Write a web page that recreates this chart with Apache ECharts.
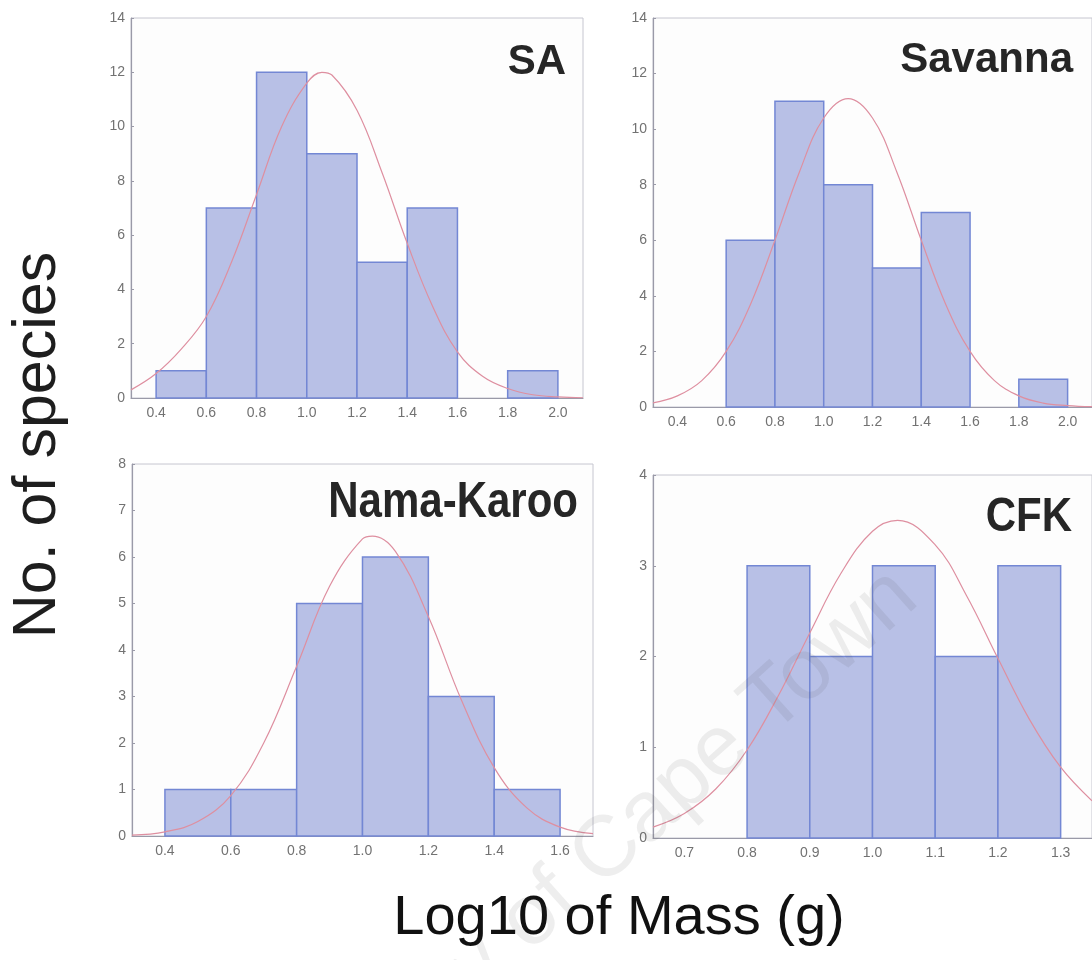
<!DOCTYPE html>
<html>
<head>
<meta charset="utf-8">
<title>Log10 of Mass</title>
<script src="https://cdn.jsdelivr.net/npm/echarts@6/dist/echarts.min.js"></script>
<style>
html, body { margin: 0; padding: 0; background: #fff; }
#main { width: 1092px; height: 960px; }
</style>
</head>
<body>
<div id="main"></div>
<script>
// lower edge of each bin and the number of species in it
var saBins = [0.4, 0.6, 0.8, 1.0, 1.2, 1.4, 1.8];
var saCounts = [1, 7, 12, 9, 5, 7, 1];
var savBins = [0.6, 0.8, 1.0, 1.2, 1.4, 1.8];
var savCounts = [6, 11, 8, 5, 7, 1];
var namaBins = [0.4, 0.6, 0.8, 1.0, 1.2, 1.4];
var namaCounts = [1, 1, 5, 6, 3, 1];
var cfkBins = [0.8, 0.9, 1.0, 1.1, 1.2];
var cfkCounts = [3, 2, 3, 2, 3];

// fitted normal curves
var saFitX = [0.3, 0.4, 0.5, 0.6, 0.7, 0.8, 0.9, 1.0, 1.06, 1.1, 1.2, 1.3, 1.4, 1.5, 1.6, 1.7, 1.8, 1.9, 2.0, 2.1];
var saFitY = [0.3, 0.9, 1.8, 3.0, 5.0, 7.5, 10.0, 11.6, 12.0, 11.9, 10.6, 8.3, 5.7, 3.4, 1.7, 0.8, 0.35, 0.12, 0.04, 0.01];
var savFitX = [0.3, 0.4, 0.5, 0.6, 0.7, 0.8, 0.9, 1.0, 1.1, 1.2, 1.3, 1.4, 1.5, 1.6, 1.7, 1.8, 1.9, 2.0, 2.1];
var savFitY = [0.15, 0.4, 0.95, 2.0, 3.7, 6.0, 8.45, 10.4, 11.1, 10.4, 8.45, 6.0, 3.7, 2.0, 0.95, 0.4, 0.14, 0.05, 0.01];
var namaFitX = [0.3, 0.4, 0.5, 0.6, 0.7, 0.8, 0.9, 1.0, 1.03, 1.1, 1.2, 1.3, 1.4, 1.5, 1.6, 1.7];
var namaFitY = [0.02, 0.09, 0.31, 0.87, 2.0, 3.65, 5.37, 6.39, 6.45, 6.12, 4.72, 2.93, 1.47, 0.6, 0.19, 0.05];
var cfkFitX = [0.65, 0.7, 0.75, 0.8, 0.85, 0.9, 0.95, 1.0, 1.04, 1.1, 1.15, 1.2, 1.25, 1.3, 1.35];
var cfkFitY = [0.12, 0.27, 0.54, 0.97, 1.57, 2.26, 2.92, 3.38, 3.5, 3.23, 2.67, 1.98, 1.31, 0.78, 0.41];

var panels = [
  { name: 'SA', bins: saBins, counts: saCounts, binWidth: 0.2, fitX: saFitX, fitY: saFitY,
    xMin: 0.3, xMax: 2.1, xStep: 0.2, yMax: 14, yStep: 2 },
  { name: 'Savanna', bins: savBins, counts: savCounts, binWidth: 0.2, fitX: savFitX, fitY: savFitY,
    xMin: 0.3, xMax: 2.1, xStep: 0.2, yMax: 14, yStep: 2 },
  { name: 'Nama-Karoo', bins: namaBins, counts: namaCounts, binWidth: 0.2, fitX: namaFitX, fitY: namaFitY,
    xMin: 0.3, xMax: 1.7, xStep: 0.2, yMax: 8, yStep: 1 },
  { name: 'CFK', bins: cfkBins, counts: cfkCounts, binWidth: 0.1, fitX: cfkFitX, fitY: cfkFitY,
    xMin: 0.65, xMax: 1.35, xStep: 0.1, yMax: 4, yStep: 1 }
];

// plot boxes and panel label placement
var boxes = [
  { left: 131, top: 18, width: 452, height: 380, lx: 566, ly: 62, sy: 1 },
  { left: 653, top: 18, width: 441, height: 389, lx: 1073, ly: 60, sy: 1.03 },
  { left: 132, top: 464, width: 461, height: 372, lx: 578, ly: 503, sy: 1.18 },
  { left: 653, top: 475, width: 441, height: 363, lx: 1072, ly: 518, sy: 1.15 }
];

var FONT = '"Liberation Sans", Arial, sans-serif';
var BAR_FILL = '#b8c0e6';
var BAR_LINE = '#7387d4';
var FIT_LINE = '#de8fa0';
var AXIS_LINE = '#9a9aa8';

function histItem(params, api) {
  var lo = api.value(0), hi = api.value(1), n = api.value(2);
  var a = api.coord([lo, n]);
  var b = api.coord([hi, 0]);
  return {
    type: 'rect',
    shape: { x: a[0], y: a[1], width: b[0] - a[0], height: b[1] - a[1] },
    style: { fill: BAR_FILL, stroke: BAR_LINE, lineWidth: 1.5 }
  };
}

var grid = [], xAxis = [], yAxis = [], series = [], graphic = [];

for (var i = 0; i < panels.length; i++) {
  var p = panels[i], b = boxes[i];
  grid.push({
    left: b.left, top: b.top, width: b.width, height: b.height,
    show: true, borderColor: '#c6c6d0', borderWidth: 1, backgroundColor: '#fdfdfd'
  });
  xAxis.push({
    type: 'value', gridIndex: i, min: p.xMin, max: p.xMax,
    splitNumber: Math.round((p.xMax - p.xMin) / p.xStep),
    minInterval: p.xStep, maxInterval: p.xStep,
    axisLine: { show: true, lineStyle: { color: AXIS_LINE, width: 1.2 } },
    axisTick: { show: false },
    splitLine: { show: false },
    axisLabel: {
      color: '#727272', fontSize: 14, fontFamily: FONT, margin: 8,
      showMinLabel: false, showMaxLabel: false,
      formatter: function (v) { return v.toFixed(1); }
    }
  });
  yAxis.push({
    type: 'value', gridIndex: i, min: 0, max: p.yMax, interval: p.yStep,
    axisLine: { show: true, lineStyle: { color: AXIS_LINE, width: 1.2 } },
    axisTick: { show: true, inside: true, length: 3, lineStyle: { color: AXIS_LINE } },
    splitLine: { show: false },
    axisLabel: { color: '#727272', fontSize: 14, fontFamily: FONT, margin: 6 }
  });

  var rows = [];
  for (var k = 0; k < p.bins.length; k++) {
    rows.push([p.bins[k], p.bins[k] + p.binWidth, p.counts[k]]);
  }
  series.push({
    type: 'custom', xAxisIndex: i, yAxisIndex: i,
    renderItem: histItem, encode: { x: [0, 1], y: 2 }, data: rows, z: 2
  });

  var fit = [];
  for (var m = 0; m < p.fitX.length; m++) fit.push([p.fitX[m], p.fitY[m]]);
  series.push({
    type: 'line', xAxisIndex: i, yAxisIndex: i, data: fit, smooth: 0.4,
    showSymbol: false, clip: true, z: 3,
    lineStyle: { color: FIT_LINE, width: 1.2 }
  });

  graphic.push({
    type: 'text', x: b.lx, y: b.ly, scaleY: b.sy, z: 20,
    style: {
      text: p.name, font: 'bold 42px ' + FONT, fill: '#262626',
      textAlign: 'right', textVerticalAlign: 'middle'
    }
  });
}

// axis titles
graphic.push({
  type: 'text', x: 38, y: 445, rotation: Math.PI / 2, z: 20,
  style: {
    text: 'No. of species', font: '61px ' + FONT, fill: '#1e1e1e',
    textAlign: 'center', textVerticalAlign: 'middle'
  }
});
graphic.push({
  type: 'text', x: 619, y: 919, z: 20,
  style: {
    text: 'Log10 of Mass (g)', font: '56px ' + FONT, fill: '#111',
    textAlign: 'center', textVerticalAlign: 'middle'
  }
});
// faint scan watermark
graphic.push({
  type: 'text', x: 905, y: 585, rotation: 0.73, z: 30, silent: true,
  style: {
    text: 'University of Cape Town', font: '86px ' + FONT,
    fill: 'rgba(70,70,70,0.09)', textAlign: 'right', textVerticalAlign: 'middle'
  }
});

var chart = echarts.init(document.getElementById('main'));
chart.setOption({
  backgroundColor: '#ffffff',
  animation: false,
  grid: grid,
  xAxis: xAxis,
  yAxis: yAxis,
  series: series,
  graphic: graphic
});
</script>
</body>
</html>
